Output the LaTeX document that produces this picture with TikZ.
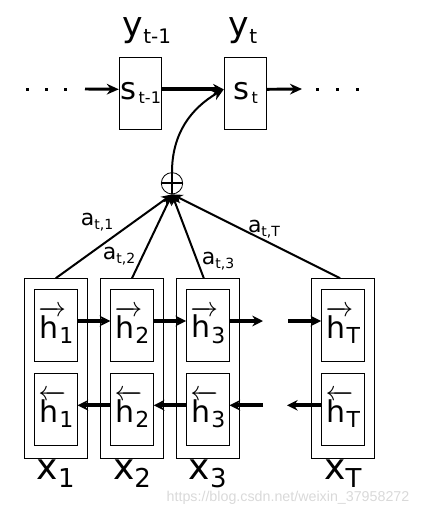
\documentclass[tikz,border=0pt]{standalone}
\usepackage{fontspec}
\setmainfont{DejaVu Sans}
\newfontfamily\markfont{Liberation Sans}
\usetikzlibrary{arrows.meta}
% lowered index: size, drop, text
\newcommand{\lo}[3]{\raisebox{-#2}{\fontsize{#1}{#1}\selectfont #3}}
\newcommand{\fw}{$\overrightarrow{\mbox{h}\hspace{5pt}}$\hspace{-5pt}}
\newcommand{\bw}{$\overleftarrow{\mbox{h}\hspace{5pt}}$\hspace{-5pt}}
\begin{document}
\begin{tikzpicture}[x=0.75pt,y=-0.75pt,
    cell/.style={draw,line width=0.75pt,minimum width=31.8pt,minimum height=54pt,inner sep=0pt},
    col/.style={draw,line width=0.75pt,minimum width=47.25pt,minimum height=134.7pt},
    hlab/.style={font=\fontsize{22.5}{24}\selectfont},
    flow/.style={line width=3pt,-{Stealth[length=8pt,width=8pt]}},
    attn/.style={line width=1.5pt,-{Stealth[length=8pt,width=7pt]}},
    wlab/.style={font=\fontsize{16.5}{18}\selectfont,inner sep=1pt}]
  \useasboundingbox (0,0) rectangle (432,514);
  % decoder states
  \node[cell,font=\fontsize{23}{25}\selectfont] (s1) at (140.5,93.3) {s\hspace{2pt}\lo{12pt}{3pt}{t-1}};
  \node[cell,font=\fontsize{23}{25}\selectfont] (s2) at (245.5,93.3) {s\hspace{2pt}\lo{12pt}{3pt}{t}};
  \node[font=\fontsize{26}{28}\selectfont] (y1) at (147,31) {y\lo{15pt}{5pt}{t-1}};
  \node[font=\fontsize{26}{28}\selectfont] (y2) at (243,31) {y\lo{15pt}{5pt}{t}};
  \coordinate (in) at (85,89);
  \coordinate (out) at (302,89);
  \foreach \x in {27,46,65,317,337,357}
    \fill (\x-1.5,87.5) rectangle +(3,3);
  \draw[line width=2.2pt,-{Stealth[length=9pt,width=8pt]}] (in) -- ([yshift=3pt]s1.west);
  \draw[flow] ([yshift=3pt]s1.east) -- ([yshift=3pt]s2.west);
  \draw[line width=2.2pt,-{Stealth[length=9pt,width=8pt]}] ([yshift=3pt]s2.east) -- (out);
  % sum
  \node[draw,circle,line width=0.6pt,minimum size=16pt,inner sep=0pt] (sum) at (172,183.3) {};
  \draw[line width=1.6pt] (sum.west) -- (sum.east) (sum.north) -- (sum.south);
  \draw[line width=1.5pt,-{Stealth[length=9pt,width=8pt]}] (sum.north) to[out=90,in=210] ([yshift=3pt]s2.west);
  % encoder columns
  \foreach \n/\x in {1/55.8,2/132,3/207.8,T/342.8}{
    \node[col] (x\n) at (\x,368.5) {};
    \node[cell,hlab] (hf\n) at (\x,325) {\fw\lo{16.5pt}{4pt}{\n}};
    \node[cell,hlab] (hb\n) at (\x,409.3) {\bw\lo{16.5pt}{4pt}{\n}};
    \node[font=\fontsize{27}{29}\selectfont] (lx\n) at (\x,474) {x\lo{19.5pt}{6pt}{\n}};
  }
  \coordinate (f3) at (263,321);
  \coordinate (f4) at (288,321);
  \coordinate (b3) at (263,405.3);
  \coordinate (b4) at (287,405.3);
  \draw[flow] ([yshift=3pt]hf1.east) -- ([yshift=3pt]hf2.west);
  \draw[flow] ([yshift=3pt]hf2.east) -- ([yshift=3pt]hf3.west);
  \draw[flow] ([yshift=3pt]hf3.east) -- (f3);
  \draw[flow] (f4) -- ([yshift=3pt]hfT.west);
  \draw[flow] ([yshift=3pt]hb2.west) -- ([yshift=3pt]hb1.east);
  \draw[flow] ([yshift=3pt]hb3.west) -- ([yshift=3pt]hb2.east);
  \draw[flow] (b3) -- ([yshift=3pt]hb3.east);
  \draw[flow] ([yshift=3pt]hbT.west) -- (b4);
  % attention weights
  \draw[attn] (x1.north) -- (sum.south);
  \draw[attn] (x2.north) -- (sum.south);
  \draw[attn] ([xshift=-3pt]x3.north) -- (sum.south);
  \draw[attn] ([xshift=-2pt]xT.north) -- (sum.south);
  \node[wlab] (a1) at (97,222) {a\lo{10.5pt}{3pt}{t,1}};
  \node[wlab] (a2) at (119,256) {a\lo{10.5pt}{3pt}{t,2}};
  \node[wlab] (a3) at (218,261) {a\lo{10.5pt}{3pt}{t,3}};
  \node[wlab] (aT) at (264,229) {a\lo{10.5pt}{3pt}{t,T}};
  \node[text=gray!30,font=\markfont\fontsize{10.7}{12}\selectfont] (mark) at (288,498) {https://blog.csdn.net/weixin\_37958272};
\end{tikzpicture}
\end{document}
